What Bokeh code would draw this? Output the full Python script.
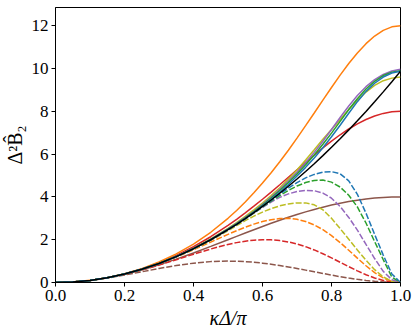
from bokeh.plotting import figure
from bokeh.models import Range1d, FixedTicker
from bokeh.embed import file_html
from bokeh.resources import INLINE

# kappa*Delta/pi
x = [0.0, 0.05, 0.10, 0.15, 0.20, 0.25, 0.30, 0.35, 0.40, 0.45, 0.50, 0.525, 0.55, 0.575,
     0.60, 0.625, 0.65, 0.675, 0.70, 0.725, 0.75, 0.775, 0.80, 0.825, 0.85, 0.875, 0.90,
     0.925, 0.95, 0.975, 1.0]

exact = [0, .0247, .0987, .2221, .3948, .6169, .8883, 1.2090, 1.5791, 1.9986, 2.4674, 2.7203,
         2.9856, 3.2631, 3.5531, 3.8553, 4.1699, 4.4969, 4.8361, 5.1877, 5.5517, 5.9279, 6.3165,
         6.7175, 7.1308, 7.5564, 7.9944, 8.4447, 8.9073, 9.3823, 9.8696]

brown_solid = [0, .0246, .0979, .2180, .3820, .5858, .8244, 1.0920, 1.3820, 1.6871, 2.0, 2.157,
               2.3129, 2.467, 2.618, 2.765, 2.908, 3.045, 3.1756, 3.299, 3.4142, 3.521, 3.618,
               3.706, 3.782, 3.848, 3.9021, 3.945, 3.9754, 3.994, 4.0]
brown_dashed = [0, .0245, .0955, .2061, .3455, .5, .6545, .7939, .9045, .9755, 1.0, .9938, .9755,
                .9455, .9045, .8536, .7939, .7271, .6545, .5783, .5, .4218, .3455, .2728, .2061,
                .1466, .0955, .0544, .0245, .0062, 0]

red_solid = [0, .0247, .0991, .2241, .4011, .6321, .9192, 1.2646, 1.6705, 2.1380, 2.6667, 2.9529,
             3.2535, 3.5666, 3.8916, 4.2259, 4.5688, 4.9157, 5.2658, 5.6136, 5.9561, 6.2883,
             6.6053, 6.9031, 7.1731, 7.4128, 7.6178, 7.7822, 7.9020, 7.9760, 8.0]
red_dashed = [0, .0246, .0979, .2178, .3810, .5822, .8136, 1.0647, 1.3217, 1.5667, 1.7778, 1.8630,
              1.9303, 1.9766, 1.9986, 1.9938, 1.9596, 1.8950, 1.7998, 1.6745, 1.5218, 1.3457,
              1.1513, .9464, .7417, .5441, .3641, .2117, .0968, .0239, 0]

orange_solid = [0, .0247, .0995, .2262, .4079, .6492, .9558, 1.3350, 1.7955, 2.3471, 3.0, 3.3672,
                3.7637, 4.1891, 4.6447, 5.1290, 5.6429, 6.1819, 6.7459, 7.3274, 7.9222, 8.5208,
                9.1136, 9.6903, 10.2308, 10.7255, 11.1602, 11.5166, 11.7809, 11.9462, 12.0]
orange_dashed = [0, .0246, .0987, .2219, .3940, .6141, .8797, 1.1866, 1.5269, 1.8880, 2.25, 2.4224,
                 2.5834, 2.7267, 2.8467, 2.9369, 2.9896, 2.9970, 2.9534, 2.8533, 2.6920, 2.4702,
                 2.1918, 1.8654, 1.5080, 1.1391, .7812, .4641, .2156, .0538, 0]

olive_solid = [0, .0247, .099, .222, .397, .621, .895, 1.221, 1.600, 2.035, 2.53, 2.80, 3.09, 3.39,
               3.71, 4.06, 4.43, 4.83, 5.26, 5.72, 6.20, 6.69, 7.15, 7.62, 8.08, 8.51, 8.90, 9.21,
               9.43, 9.55, 9.60]
olive_dashed = [0, .0247, .0987, .222, .394, .615, .882, 1.197, 1.560, 1.965, 2.42, 2.66, 2.89,
                3.10, 3.29, 3.45, 3.58, 3.67, 3.72, 3.72, 3.63, 3.40, 3.00, 2.52, 2.02, 1.52, 1.04,
                0.60, 0.26, 0.06, 0]

purple_solid = [0, .0247, .099, .222, .396, .619, .891, 1.214, 1.588, 2.013, 2.50, 2.76, 3.04,
                3.33, 3.65, 3.99, 4.35, 4.74, 5.15, 5.60, 6.08, 6.60, 7.15, 7.71, 8.25, 8.74, 9.15,
                9.48, 9.72, 9.88, 9.96]
purple_dashed = [0, .0247, .0987, .222, .395, .617, .887, 1.206, 1.572, 1.985, 2.46, 2.71, 2.97,
                 3.24, 3.51, 3.76, 3.98, 4.14, 4.25, 4.30, 4.29, 4.18, 3.94, 3.55, 3.04, 2.45, 1.78,
                 1.12, 0.52, 0.13, 0]

green_solid = [0, .0247, .0988, .222, .396, .618, .890, 1.212, 1.585, 2.008, 2.49, 2.75, 3.02,
               3.31, 3.62, 3.95, 4.30, 4.67, 5.07, 5.50, 5.96, 6.46, 6.98, 7.53, 8.08, 8.59, 9.04,
               9.40, 9.67, 9.83, 9.90]
green_dashed = [0, .0247, .0987, .222, .395, .617, .888, 1.208, 1.576, 1.993, 2.465, 2.72, 2.98,
                3.25, 3.53, 3.80, 4.06, 4.30, 4.51, 4.67, 4.77, 4.79, 4.69, 4.46, 4.08, 3.53, 2.78,
                1.91, 1.07, 0.25, 0]

blue_solid = [0, .0247, .0988, .222, .395, .618, .889, 1.211, 1.583, 2.005, 2.48, 2.73, 3.00, 3.28,
              3.58, 3.89, 4.22, 4.58, 4.98, 5.38, 5.82, 6.30, 6.81, 7.35, 7.91, 8.45, 8.93, 9.31,
              9.60, 9.79, 9.87]
blue_dashed = [0, .0247, .0987, .222, .395, .617, .888, 1.209, 1.578, 1.997, 2.467, 2.72, 2.985,
               3.26, 3.55, 3.84, 4.13, 4.41, 4.67, 4.89, 5.05, 5.16, 5.18, 5.08, 4.75, 4.12, 3.24,
               2.25, 1.28, 0.40, 0]

x_ticks = [0.0, 0.2, 0.4, 0.6, 0.8, 1.0]
x_tick_labels = ["0.0", "0.2", "0.4", "0.6", "0.8", "1.0"]
y_ticks = [0, 2, 4, 6, 8, 10, 12]
y_tick_labels = ["0", "2", "4", "6", "8", "10", "12"]

series = [
    ("#8c564b", brown_solid, brown_dashed),
    ("#d62728", red_solid, red_dashed),
    ("#ff7f0e", orange_solid, orange_dashed),
    ("#bcbd22", olive_solid, olive_dashed),
    ("#9467bd", purple_solid, purple_dashed),
    ("#2ca02c", green_solid, green_dashed),
    ("#1f77b4", blue_solid, blue_dashed),
]

p = figure(width=416, height=334, x_range=Range1d(0, 1), y_range=Range1d(0, 12.85),
           output_backend="svg", toolbar_location=None,
           min_border_left=52, min_border_right=16, min_border_top=7, min_border_bottom=52)
p.background_fill_color = "white"
p.border_fill_color = "white"
p.grid.visible = False
p.outline_line_color = "black"
p.outline_line_width = 1

for color, solid, dashed in series:
    p.line(x, solid, line_color=color, line_width=1.5)
    p.line(x, dashed, line_color=color, line_width=1.5, line_dash="6 2")
p.line(x, exact, line_color="black", line_width=1.5)

FONT = "Liberation Serif, DejaVu Serif, serif"
p.xaxis.ticker = FixedTicker(ticks=x_ticks, minor_ticks=[])
p.xaxis.major_label_overrides = {t: l for t, l in zip(x_ticks, x_tick_labels)}
p.yaxis.ticker = FixedTicker(ticks=y_ticks, minor_ticks=[])
p.yaxis.major_label_overrides = {t: l for t, l in zip(y_ticks, y_tick_labels)}
for ax in (p.xaxis[0], p.yaxis[0]):
    ax.axis_line_color = "black"
    ax.major_tick_line_color = "black"
    ax.major_tick_out = 4
    ax.major_tick_in = 0
    ax.minor_tick_out = 0
    ax.minor_tick_in = 0
    ax.major_label_text_font = FONT
    ax.major_label_text_font_size = "17px"
    ax.major_label_text_color = "black"
    ax.major_label_standoff = 3
    ax.axis_label_text_font = FONT
    ax.axis_label_text_font_size = "20px"
    ax.axis_label_text_color = "black"
    ax.axis_label_standoff = 3

p.xaxis.axis_label = "κΔ/π"
p.xaxis.axis_label_text_font_style = "italic"
p.yaxis.axis_label = "Δ²B\u0302\u2082"
p.yaxis.axis_label_text_font_style = "normal"

open("out.html", "w").write(file_html(p, INLINE))
